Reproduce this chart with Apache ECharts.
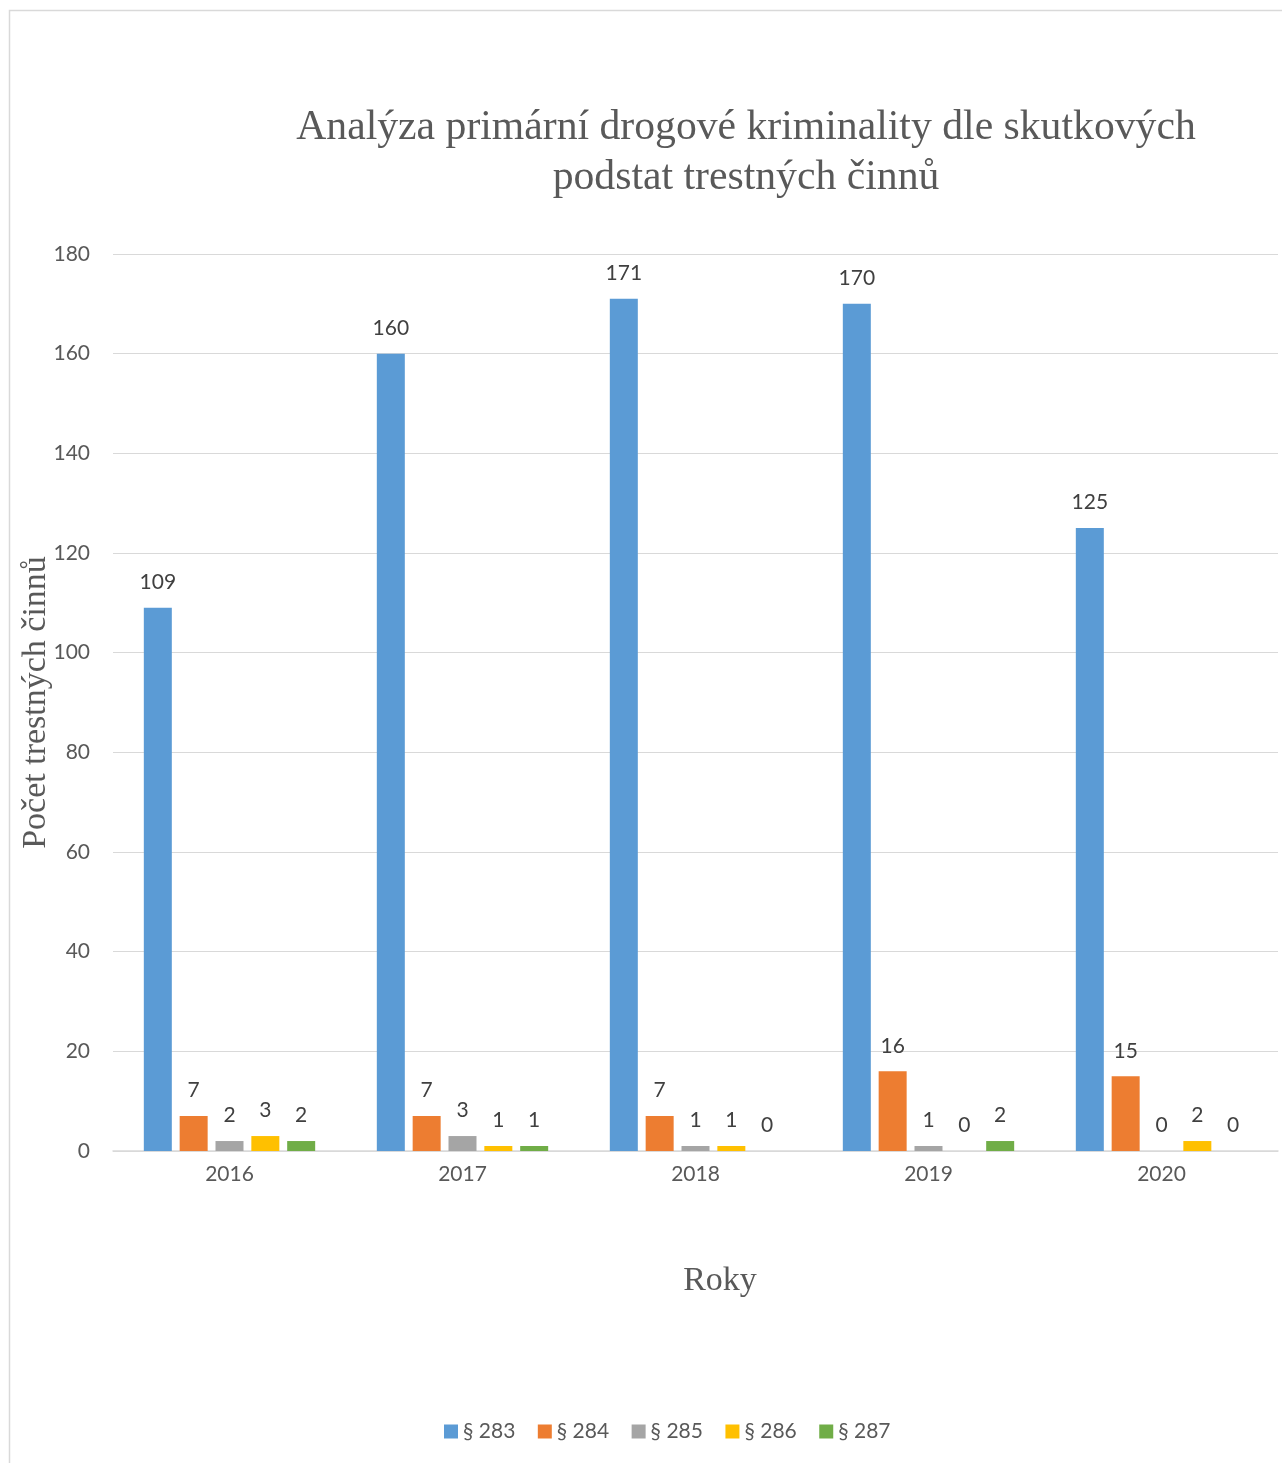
<!DOCTYPE html>
<html>
<head>
<meta charset="utf-8">
<script src="https://cdn.jsdelivr.net/npm/echarts@6/dist/echarts.min.js"></script>
<style>
  html, body { margin: 0; padding: 0; background: #fff; }
  #chart { width: 1282px; height: 1463px; }
</style>
</head>
<body>
<div id="chart"></div>
<script>
// Years on the category axis
const years = ['2016', '2017', '2018', '2019', '2020'];

// Counts of offences per paragraph of the criminal code
const s283 = [109, 160, 171, 170, 125];
const s284 = [7, 7, 7, 16, 15];
const s285 = [2, 3, 1, 1, 0];
const s286 = [3, 1, 1, 0, 2];
const s287 = [2, 1, 0, 2, 0];

const seriesNames = ['§ 283', '§ 284', '§ 285', '§ 286', '§ 287'];
const seriesData = [s283, s284, s285, s286, s287];
const colors = ['#5B9BD5', '#ED7D31', '#A5A5A5', '#FFC000', '#70AD47'];

const sansFont = 'Lato, "Noto Sans", sans-serif';
const serifFont = '"Liberation Serif", "DejaVu Serif", serif';

const chart = echarts.init(document.getElementById('chart'));

chart.setOption({
  animation: false,
  backgroundColor: '#ffffff',
  color: colors,
  title: {
    text: 'Analýza primární drogové kriminality dle skutkových\npodstat trestných činnů',
    left: 741,
    top: 98,
    textAlign: 'center',
    textStyle: {
      fontFamily: serifFont,
      fontWeight: 'normal',
      fontSize: 41.7,
      lineHeight: 50,
      color: '#595959'
    }
  },
  graphic: [
    {
      type: 'rect',
      shape: { x: 9.5, y: 10.5, width: 1300, height: 1500 },
      style: { fill: 'none', stroke: '#d9d9d9', lineWidth: 1.5 },
      silent: true
    },
    {
      type: 'text',
      x: 720,
      y: 1281,
      style: {
        text: 'Roky',
        fontFamily: serifFont,
        fontSize: 34,
        fill: '#595959',
        align: 'center',
        verticalAlign: 'middle'
      }
    }
  ],
  legend: {
    data: seriesNames,
    left: 439,
    top: 1416,
    itemWidth: 14,
    itemHeight: 14,
    itemGap: 22.5,
    icon: 'rect',
    textStyle: { fontFamily: sansFont, fontSize: 21, color: '#595959' }
  },
  grid: {
    left: 113, right: 4, top: 254, bottom: 312,
    containLabel: false,
    outerBoundsMode: 'none'
  },
  xAxis: {
    type: 'category',
    data: years,
    axisTick: { show: false },
    axisLine: { lineStyle: { color: '#d9d9d9', width: 1.5 } },
    axisLabel: { fontFamily: sansFont, fontSize: 21, color: '#595959', margin: 13 }
  },
  yAxis: {
    type: 'value',
    min: 0,
    max: 180,
    interval: 20,
    name: 'Počet trestných činnů',
    nameLocation: 'middle',
    nameRotate: 90,
    nameGap: 60,
    nameMoveOverlap: false,
    nameTextStyle: { fontFamily: serifFont, fontSize: 34, color: '#595959' },
    axisLine: { show: false },
    axisTick: { show: false },
    splitLine: { lineStyle: { color: '#d9d9d9', width: 1.2 } },
    axisLabel: { fontFamily: sansFont, fontSize: 21, color: '#595959', margin: 23 }
  },
  series: seriesNames.map((name, i) => ({
    name: name,
    type: 'bar',
    data: seriesData[i],
    barWidth: 28,
    barGap: '28%',
    itemStyle: { color: colors[i] },
    label: {
      show: true,
      position: 'top',
      distance: 15,
      fontFamily: sansFont,
      fontSize: 21,
      color: '#404040'
    }
  }))
});
</script>
</body>
</html>
